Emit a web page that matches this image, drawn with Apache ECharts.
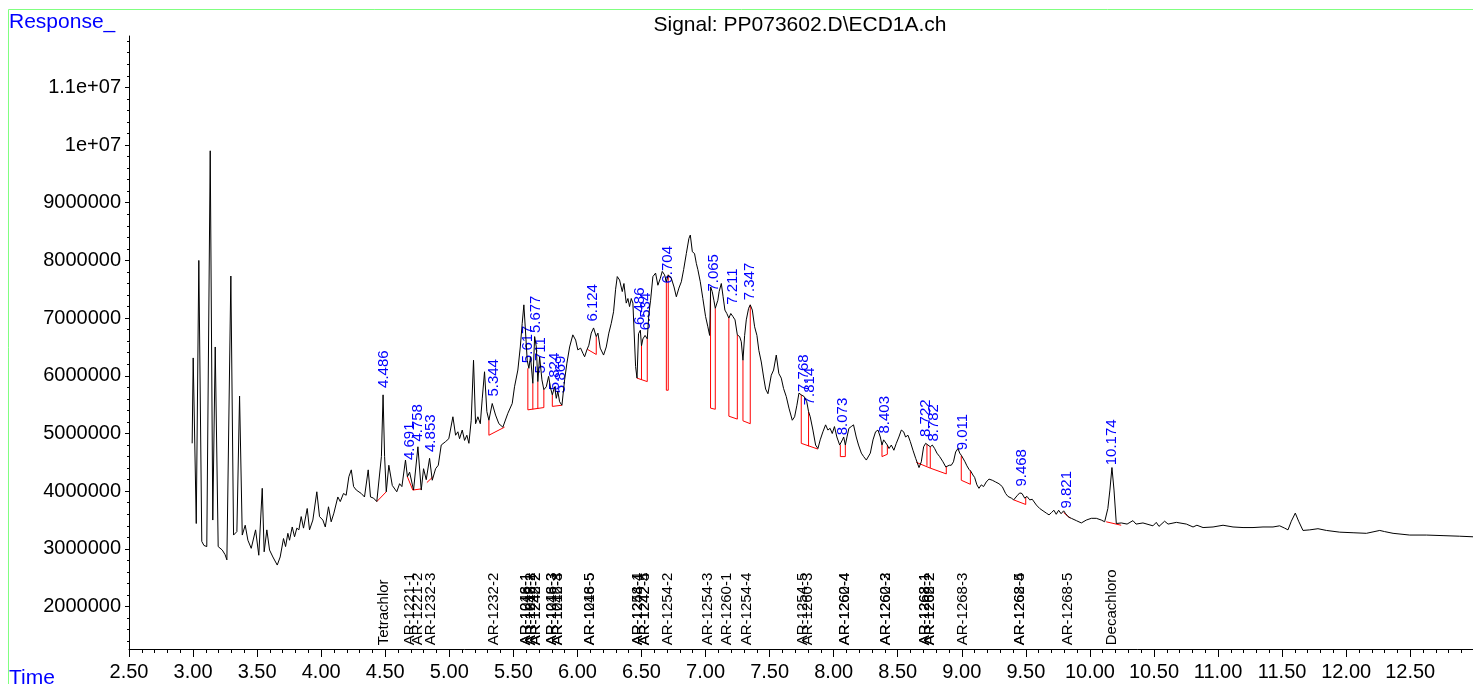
<!DOCTYPE html>
<html>
<head>
<meta charset="utf-8">
<title>Signal: PP073602.D\ECD1A.ch</title>
<script src="https://cdn.jsdelivr.net/npm/echarts@6/dist/echarts.min.js"></script>
<style>
html, body { margin: 0; padding: 0; background: #fff; }
#chart { width: 1473px; height: 684px; }
</style>
</head>
<body>
<div id="chart"></div>
<script>
// chromatogram trace (time in min, response in counts)
const traceTime = [
  2.993, 3.001, 3.025, 3.045, 3.068, 3.085, 3.107, 3.134, 3.154, 3.173, 3.196, 3.228, 3.250, 3.264, 3.295,
  3.316, 3.342, 3.363, 3.384, 3.407, 3.428, 3.454, 3.488, 3.513, 3.540, 3.555, 3.576, 3.597, 3.623, 3.657,
  3.680, 3.706, 3.722, 3.740, 3.753, 3.774, 3.792, 3.810, 3.826, 3.844, 3.862, 3.891, 3.909, 3.935, 3.966,
  3.987, 4.013, 4.032, 4.057, 4.078, 4.099, 4.130, 4.149, 4.174, 4.195, 4.216, 4.235, 4.253, 4.274, 4.313,
  4.338, 4.367, 4.385, 4.409, 4.434, 4.470, 4.483, 4.495, 4.508, 4.528, 4.555, 4.590, 4.612, 4.630, 4.658,
  4.673, 4.690, 4.721, 4.755, 4.781, 4.799, 4.820, 4.846, 4.867, 4.893, 4.914, 4.937, 4.971, 4.996, 5.028,
  5.049, 5.067, 5.080, 5.101, 5.119, 5.137, 5.153, 5.171, 5.189, 5.205, 5.223, 5.242, 5.257, 5.275, 5.293,
  5.309, 5.335, 5.361, 5.387, 5.418, 5.431, 5.457, 5.470, 5.491, 5.509, 5.535, 5.554, 5.569, 5.582, 5.595,
  5.608, 5.621, 5.634, 5.652, 5.666, 5.679, 5.691, 5.705, 5.723, 5.738, 5.757, 5.775, 5.790, 5.804, 5.822,
  5.835, 5.847, 5.861, 5.879, 5.900, 5.918, 5.939, 5.964, 5.986, 6.003, 6.025, 6.043, 6.056, 6.074, 6.089,
  6.108, 6.126, 6.147, 6.160, 6.178, 6.204, 6.225, 6.245, 6.264, 6.282, 6.298, 6.311, 6.329, 6.350, 6.363,
  6.381, 6.394, 6.407, 6.420, 6.433, 6.445, 6.454, 6.465, 6.477, 6.491, 6.500, 6.511, 6.528, 6.545, 6.558,
  6.571, 6.589, 6.610, 6.628, 6.647, 6.662, 6.680, 6.694, 6.709, 6.733, 6.754, 6.772, 6.792, 6.811, 6.829,
  6.850, 6.870, 6.881, 6.897, 6.914, 6.928, 6.940, 6.959, 6.979, 7.000, 7.018, 7.032, 7.040, 7.052, 7.065,
  7.076, 7.096, 7.106, 7.123, 7.137, 7.151, 7.166, 7.182, 7.197, 7.213, 7.230, 7.248, 7.266, 7.279, 7.292,
  7.305, 7.318, 7.336, 7.349, 7.365, 7.383, 7.401, 7.416, 7.435, 7.453, 7.469, 7.487, 7.513, 7.531, 7.552,
  7.572, 7.591, 7.609, 7.630, 7.651, 7.677, 7.695, 7.713, 7.729, 7.747, 7.770, 7.790, 7.804, 7.817, 7.838,
  7.859, 7.877, 7.895, 7.916, 7.937, 7.955, 7.972, 7.989, 8.006, 8.025, 8.047, 8.068, 8.078, 8.091, 8.104,
  8.119, 8.137, 8.155, 8.176, 8.194, 8.216, 8.234, 8.255, 8.268, 8.286, 8.307, 8.327, 8.346, 8.364, 8.377,
  8.390, 8.403, 8.419, 8.432, 8.450, 8.470, 8.489, 8.509, 8.528, 8.546, 8.561, 8.580, 8.598, 8.619, 8.640,
  8.666, 8.684, 8.702, 8.718, 8.736, 8.754, 8.770, 8.788, 8.806, 8.827, 8.853, 8.875, 8.902, 8.918, 8.935,
  8.952, 8.970, 8.984, 8.997, 9.009, 9.025, 9.040, 9.056, 9.072, 9.087, 9.100, 9.118, 9.134, 9.152, 9.170,
  9.191, 9.212, 9.238, 9.264, 9.290, 9.316, 9.342, 9.360, 9.387, 9.405, 9.431, 9.452, 9.470, 9.491, 9.509,
  9.530, 9.550, 9.582, 9.608, 9.634, 9.660, 9.681, 9.700, 9.719, 9.737, 9.756, 9.775, 9.795, 9.811, 9.829,
  9.855, 9.894, 9.933, 9.972, 10.011, 10.050, 10.089, 10.115, 10.140, 10.156, 10.172, 10.188, 10.206, 10.219, 10.245,
  10.290, 10.336, 10.360, 10.414, 10.492, 10.518, 10.539, 10.583, 10.610, 10.675, 10.753, 10.805, 10.835, 10.883, 10.961,
  11.039, 11.117, 11.195, 11.273, 11.351, 11.429, 11.481, 11.520, 11.546, 11.572, 11.603, 11.629, 11.663, 11.716, 11.780,
  11.846, 11.950, 12.054, 12.158, 12.262, 12.300, 12.366, 12.496, 12.626, 12.756, 12.886, 12.990
]
const traceResp = [
  4.83e6, 6.31e6, 3.44e6, 8.00e6, 3.13e6, 3.06e6, 3.04e6, 9.90e6, 3.50e6, 6.50e6, 3.04e6, 2.98e6, 2.90e6, 2.81e6, 7.73e6,
  3.24e6, 3.30e6, 5.65e6, 3.24e6, 3.41e6, 3.15e6, 3.01e6, 3.33e6, 2.89e6, 4.05e6, 2.95e6, 3.33e6, 2.98e6, 2.86e6, 2.72e6,
  2.86e6, 3.18e6, 3.04e6, 3.27e6, 3.15e6, 3.38e6, 3.21e6, 3.36e6, 3.33e6, 3.56e6, 3.36e6, 3.70e6, 3.33e6, 3.50e6, 3.99e6,
  3.56e6, 3.50e6, 3.38e6, 3.73e6, 3.47e6, 3.62e6, 3.90e6, 3.82e6, 3.96e6, 3.93e6, 4.25e6, 4.37e6, 4.08e6, 4.02e6, 3.96e6,
  3.90e6, 4.37e6, 3.90e6, 3.88e6, 3.82e6, 4.60e6, 5.67e6, 4.60e6, 3.99e6, 4.45e6, 4.10e6, 3.99e6, 4.13e6, 4.08e6, 4.54e6,
  4.25e6, 4.33e6, 4.02e6, 4.77e6, 4.02e6, 4.39e6, 4.20e6, 4.57e6, 4.19e6, 4.39e6, 4.45e6, 4.80e6, 4.86e6, 4.91e6, 5.29e6,
  4.97e6, 5.03e6, 4.91e6, 5.06e6, 4.88e6, 4.97e6, 4.83e6, 5.23e6, 6.27e6, 5.17e6, 5.29e6, 5.17e6, 5.60e6, 6.07e6, 5.38e6,
  5.23e6, 5.52e6, 5.32e6, 5.17e6, 5.11e6, 5.08e6, 5.35e6, 5.38e6, 5.52e6, 5.81e6, 6.10e6, 6.50e6, 6.91e6, 7.23e6, 6.76e6,
  6.27e6, 6.13e6, 6.33e6, 5.87e6, 6.68e6, 6.50e6, 5.90e6, 6.33e6, 5.93e6, 5.76e6, 5.81e6, 5.99e6, 5.79e6, 5.67e6, 5.81e6,
  5.61e6, 5.73e6, 5.55e6, 5.49e6, 5.93e6, 6.22e6, 6.50e6, 6.71e6, 6.62e6, 6.45e6, 6.48e6, 6.39e6, 6.33e6, 6.45e6, 6.53e6,
  6.74e6, 6.83e6, 6.68e6, 6.74e6, 6.48e6, 6.36e6, 6.50e6, 6.74e6, 6.91e6, 7.11e6, 7.50e6, 7.72e6, 7.66e6, 7.46e6, 7.60e6,
  7.26e6, 7.34e6, 7.20e6, 7.34e6, 7.26e6, 7.25e6, 6.16e6, 5.96e6, 6.73e6, 6.79e6, 6.52e6, 6.64e6, 6.70e6, 6.64e6, 7.08e6,
  7.31e6, 7.72e6, 7.78e6, 7.57e6, 7.69e6, 7.81e6, 7.75e6, 7.63e6, 7.75e6, 7.69e6, 7.54e6, 7.37e6, 7.52e6, 7.63e6, 7.84e6,
  8.12e6, 8.38e6, 8.44e6, 8.15e6, 8.12e6, 7.95e6, 7.84e6, 7.63e6, 7.34e6, 7.03e6, 6.85e6, 6.70e6, 7.54e6, 7.46e6, 7.31e6,
  7.17e6, 7.31e6, 7.46e6, 7.60e6, 7.37e6, 7.14e6, 7.08e6, 7.00e6, 7.08e6, 7.03e6, 6.97e6, 6.71e6, 6.68e6, 6.59e6, 6.27e6,
  6.70e6, 6.97e6, 7.17e6, 7.23e6, 7.14e6, 6.85e6, 6.70e6, 6.44e6, 6.24e6, 5.98e6, 5.77e6, 5.69e6, 6.01e6, 6.10e6, 6.36e6,
  6.04e6, 5.96e6, 5.78e6, 5.64e6, 5.44e6, 5.23e6, 5.29e6, 5.49e6, 5.70e6, 5.67e6, 5.64e6, 5.55e6, 5.38e6, 5.29e6, 5.06e6,
  4.80e6, 4.74e6, 4.89e6, 5.03e6, 5.15e6, 5.06e6, 5.09e6, 5.00e6, 5.12e6, 4.94e6, 4.80e6, 4.89e6, 4.94e6, 4.80e6, 4.94e6,
  5.09e6, 5.12e6, 5.15e6, 4.94e6, 4.80e6, 4.66e6, 4.60e6, 4.54e6, 4.51e6, 4.66e6, 4.89e6, 5.03e6, 5.06e6, 4.94e6, 4.80e6,
  4.89e6, 4.91e6, 4.80e6, 4.74e6, 4.80e6, 4.71e6, 4.83e6, 4.94e6, 5.06e6, 5.03e6, 4.94e6, 4.97e6, 4.86e6, 4.71e6, 4.57e6,
  4.41e6, 4.51e6, 4.77e6, 4.83e6, 4.80e6, 4.77e6, 4.80e6, 4.74e6, 4.66e6, 4.60e6, 4.51e6, 4.42e6, 4.45e6, 4.45e6, 4.51e6,
  4.68e6, 4.74e6, 4.66e6, 4.62e6, 4.60e6, 4.51e6, 4.44e6, 4.38e6, 4.34e6, 4.28e6, 4.24e6, 4.11e6, 4.05e6, 4.11e6, 4.08e6,
  4.16e6, 4.21e6, 4.19e6, 4.16e6, 4.13e6, 4.08e6, 3.96e6, 3.91e6, 3.88e6, 3.85e6, 3.92e6, 3.97e6, 3.96e6, 3.88e6, 3.91e6,
  3.85e6, 3.86e6, 3.76e6, 3.70e6, 3.66e6, 3.62e6, 3.59e6, 3.63e6, 3.67e6, 3.60e6, 3.67e6, 3.61e6, 3.66e6, 3.61e6, 3.56e6,
  3.53e6, 3.49e6, 3.45e6, 3.50e6, 3.53e6, 3.53e6, 3.50e6, 3.47e6, 3.70e6, 4.02e6, 4.41e6, 4.02e6, 3.44e6, 3.43e6, 3.45e6,
  3.43e6, 3.49e6, 3.43e6, 3.45e6, 3.40e6, 3.46e6, 3.39e6, 3.48e6, 3.43e6, 3.46e6, 3.43e6, 3.38e6, 3.41e6, 3.37e6, 3.38e6,
  3.41e6, 3.38e6, 3.37e6, 3.37e6, 3.38e6, 3.38e6, 3.40e6, 3.36e6, 3.33e6, 3.48e6, 3.62e6, 3.48e6, 3.32e6, 3.33e6, 3.35e6,
  3.32e6, 3.29e6, 3.28e6, 3.27e6, 3.32e6, 3.30e6, 3.27e6, 3.24e6, 3.24e6, 3.23e6, 3.22e6, 3.21e6
]

// integrated peaks: retention time text and where its label starts
const peakNames = ['4.486', '4.691', '4.758', '4.853', '5.344', '5.617', '5.677', '5.711', '5.824', '5.869',
  '6.124', '6.486', '6.534', '6.704', '7.065', '7.211', '7.347', '7.768', '7.814', '8.073', '8.403',
  '8.722', '8.782', '9.011', '9.468', '9.821', '10.174']
const peakLabelResp = [5.79e6, 4.54e6, 4.86e6, 4.68e6, 5.64e6, 6.22e6, 6.74e6, 6.04e6, 5.75e6, 5.70e6,
  6.94e6, 6.88e6, 6.79e6, 7.60e6, 7.46e6, 7.23e6, 7.31e6, 5.72e6, 5.49e6, 4.97e6, 5.00e6,
  4.94e6, 4.86e6, 4.71e6, 4.08e6, 3.70e6, 4.45e6]

// compound names printed along the time axis
const compoundNames = ['Tetrachlor', 'AR-1221-1', 'AR-1221-2', 'AR-1232-3', 'AR-1232-2',
  'AR-1016-1', 'AR-1248-1', 'AR-1242-1', 'AR-1016-2', 'AR-1248-2', 'AR-1242-2',
  'AR-1016-3', 'AR-1248-3', 'AR-1242-3', 'AR-1016-4', 'AR-1016-5', 'AR-1248-5',
  'AR-1254-1', 'AR-1248-4', 'AR-1242-5', 'AR-1242-4', 'AR-1254-2', 'AR-1254-3', 'AR-1260-1', 'AR-1254-4',
  'AR-1254-5', 'AR-1260-3', 'AR-1260-4', 'AR-1262-4', 'AR-1260-2', 'AR-1262-3',
  'AR-1268-1', 'AR-1262-1', 'AR-1268-2', 'AR-1262-2', 'AR-1268-3', 'AR-1268-4', 'AR-1262-5',
  'AR-1268-5', 'Decachloro']
const compoundTimes = [4.486, 4.691, 4.758, 4.853, 5.344,
  5.594, 5.594, 5.633, 5.633, 5.675, 5.675,
  5.802, 5.802, 5.849, 5.849, 6.096, 6.096,
  6.473, 6.473, 6.526, 6.526, 6.708, 7.020, 7.164, 7.320,
  7.760, 7.795, 8.087, 8.087, 8.407, 8.407,
  8.712, 8.712, 8.751, 8.751, 9.008, 9.453, 9.453,
  9.830, 10.174]
const compoundLabelResp = 1.33e6

// integration baselines [t1, resp1, t2, resp2]
const baselines = [
  [4.434, 3.82e6, 4.508, 3.99e6], [4.673, 4.25e6, 4.715, 4.02e6], [4.715, 4.02e6, 4.781, 4.04e6],
  [4.825, 4.15e6, 4.872, 4.25e6], [5.309, 4.97e6, 5.431, 5.11e6], [5.613, 5.41e6, 5.738, 5.45e6],
  [5.804, 5.47e6, 5.879, 5.49e6], [6.077, 6.46e6, 6.147, 6.37e6], [6.465, 5.96e6, 6.545, 5.90e6],
  [6.694, 5.75e6, 6.709, 5.75e6], [7.039, 5.44e6, 7.076, 5.42e6], [7.182, 5.30e6, 7.248, 5.25e6],
  [7.292, 5.22e6, 7.349, 5.17e6], [7.747, 4.83e6, 7.877, 4.73e6], [8.052, 4.60e6, 8.091, 4.60e6],
  [8.377, 4.60e6, 8.419, 4.64e6], [8.645, 4.50e6, 8.754, 4.40e6], [8.754, 4.40e6, 8.879, 4.30e6],
  [8.996, 4.19e6, 9.067, 4.12e6], [9.405, 3.85e6, 9.499, 3.77e6], [9.795, 3.63e6, 9.847, 3.53e6],
  [10.127, 3.47e6, 10.244, 3.41e6]
]

// vertical drop lines at peak splits
const dropTime = [5.309, 5.613, 5.652, 5.691, 5.738, 5.804, 6.147, 6.500, 6.545, 6.694, 6.709,
  7.039, 7.076, 7.182, 7.248, 7.292, 7.349, 7.747, 7.804, 8.052, 8.091, 8.377, 8.419,
  8.728, 8.754, 8.879, 8.996, 9.067, 9.499]
const dropTop = [5.23e6, 6.13e6, 5.87e6, 5.90e6, 5.76e6, 5.67e6, 6.68e6, 6.52e6, 6.64e6, 7.63e6, 7.75e6,
  7.40e6, 7.17e6, 7.00e6, 6.71e6, 6.27e6, 7.23e6, 5.67e6, 5.38e6, 4.80e6, 4.80e6, 4.80e6, 4.80e6,
  4.81e6, 4.77e6, 4.42e6, 4.62e6, 4.36e6, 3.90e6]
const dropBottom = [4.97e6, 5.41e6, 5.42e6, 5.43e6, 5.45e6, 5.47e6, 6.37e6, 5.93e6, 5.90e6, 5.75e6, 5.75e6,
  5.44e6, 5.42e6, 5.30e6, 5.25e6, 5.22e6, 5.17e6, 4.83e6, 4.78e6, 4.60e6, 4.60e6, 4.60e6, 4.64e6,
  4.44e6, 4.40e6, 4.30e6, 4.19e6, 4.12e6, 3.77e6]

// axis ticks
const yMajorTicks = [2e6, 3e6, 4e6, 5e6, 6e6, 7e6, 8e6, 9e6, 1e7, 1.1e7]
const yMin = 1.265e6
const yMax = 1.189e7

const FONT = '"Liberation Sans", Arial, sans-serif'
const yMinorTicks = []
for (let v = 1.4e6; v < yMax; v += 2e5) {
  yMinorTicks.push(Math.round(v))
}

const chart = echarts.init(document.getElementById('chart'))

function rotatedText (names, color) {
  return function (params, api) {
    const p = api.coord([api.value(0), api.value(1)])
    return {
      type: 'text',
      x: p[0],
      y: p[1],
      rotation: Math.PI / 2,
      style: {
        text: names[params.dataIndex],
        fill: color,
        font: '15px ' + FONT,
        align: 'left',
        verticalAlign: 'middle'
      }
    }
  }
}

const option = {
  animation: false,
  backgroundColor: '#fff',
  grid: { left: 129, right: 0, top: 36, bottom: 35 },
  xAxis: {
    type: 'value',
    min: 2.5,
    max: 12.99,
    interval: 0.5,
    axisLine: { onZero: false, lineStyle: { color: '#000', width: 1 } },
    axisTick: { length: 8, lineStyle: { color: '#000' } },
    minorTick: { show: true, splitNumber: 5, length: 4, lineStyle: { color: '#000' } },
    axisLabel: {
      formatter: v => v.toFixed(2),
      showMaxLabel: false,
      color: '#000',
      fontSize: 20,
      fontFamily: FONT,
      margin: 13
    },
    splitLine: { show: false }
  },
  yAxis: [
    {
      type: 'value',
      min: yMin,
      max: yMax,
      position: 'left',
      axisLine: { show: true, lineStyle: { color: '#000', width: 1 } },
      axisTick: { show: true, length: 4, customValues: yMajorTicks, lineStyle: { color: '#000' } },
      axisLabel: {
        customValues: yMajorTicks,
        formatter: v => (v >= 1e7 ? (v / 1e7) + 'e+07' : String(v)),
        color: '#000',
        fontSize: 20,
        fontFamily: FONT,
        margin: 8
      },
      splitLine: { show: false }
    },
    {
      type: 'value',
      min: yMin,
      max: yMax,
      position: 'left',
      axisLine: { show: false },
      axisTick: { show: true, length: 2, customValues: yMinorTicks, lineStyle: { color: '#000' } },
      axisLabel: { show: false },
      splitLine: { show: false }
    }
  ],
  series: [
    {
      type: 'line',
      data: traceTime.map((t, i) => [t, traceResp[i]]),
      showSymbol: false,
      symbol: 'none',
      lineStyle: { color: '#000', width: 1 },
      silent: true
    },
    {
      type: 'custom',
      data: baselines,
      encode: { x: [0, 2], y: [1, 3] },
      renderItem: (params, api) => {
        const a = api.coord([api.value(0), api.value(1)])
        const b = api.coord([api.value(2), api.value(3)])
        return {
          type: 'line',
          shape: { x1: a[0], y1: a[1], x2: b[0], y2: b[1] },
          style: { stroke: '#ff0000', lineWidth: 1 }
        }
      },
      silent: true
    },
    {
      type: 'custom',
      data: dropTime.map((t, i) => [t, dropTop[i], dropBottom[i]]),
      encode: { x: 0, y: [1, 2] },
      renderItem: (params, api) => {
        const a = api.coord([api.value(0), api.value(1)])
        const b = api.coord([api.value(0), api.value(2)])
        return {
          type: 'line',
          shape: { x1: a[0], y1: a[1], x2: b[0], y2: b[1] },
          style: { stroke: '#ff0000', lineWidth: 1 }
        }
      },
      silent: true
    },
    {
      type: 'custom',
      data: peakNames.map((n, i) => [Number(n), peakLabelResp[i]]),
      encode: { x: 0, y: 1 },
      renderItem: rotatedText(peakNames, '#0000ff'),
      silent: true
    },
    {
      type: 'custom',
      data: compoundTimes.map(t => [t, compoundLabelResp]),
      encode: { x: 0, y: 1 },
      renderItem: rotatedText(compoundNames, '#000'),
      silent: true
    }
  ],
  graphic: [
    {
      type: 'rect',
      shape: { x: 8.5, y: 9.5, width: 1500, height: 700 },
      style: { fill: 'none', stroke: '#80ff80', lineWidth: 1 },
      silent: true
    },
    {
      type: 'text',
      x: 9,
      y: 12,
      style: { text: 'Response_', fill: '#0000ff', font: '21px ' + FONT, verticalAlign: 'top' }
    },
    {
      type: 'text',
      x: 800,
      y: 15,
      style: { text: 'Signal: PP073602.D\\ECD1A.ch', fill: '#000', font: '21px ' + FONT, align: 'center', verticalAlign: 'top' }
    },
    {
      type: 'text',
      x: 9,
      y: 668,
      style: { text: 'Time', fill: '#0000ff', font: '21px ' + FONT, verticalAlign: 'top' }
    }
  ]
}

chart.setOption(option)
</script>
</body>
</html>
